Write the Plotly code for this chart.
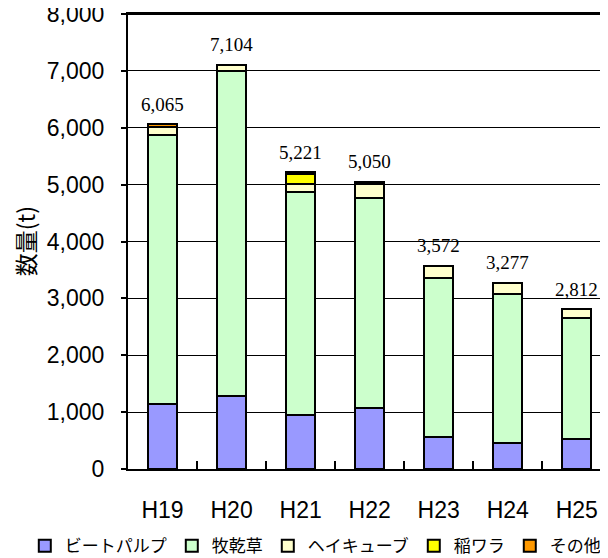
import plotly.graph_objects as go

years = ["H19", "H20", "H21", "H22", "H23", "H24", "H25"]
beet_pulp = [1150, 1290, 950, 1080, 560, 455, 525]
pasture_hay = [4730, 5715, 3920, 3685, 2796, 2620, 2135]
hay_cube = [130, 99, 140, 240, 216, 202, 152]
rice_straw = [0, 0, 180, 45, 0, 0, 0]
other = [55, 0, 31, 0, 0, 0, 0]
totals = [6065, 7104, 5221, 5050, 3572, 3277, 2812]
total_labels = ["6,065", "7,104", "5,221", "5,050", "3,572", "3,277", "2,812"]
y_ticks = [0, 1000, 2000, 3000, 4000, 5000, 6000, 7000, 8000]
y_tick_labels = ["0", "1,000", "2,000", "3,000", "4,000", "5,000", "6,000", "7,000", "8,000"]

series = [
    ("ビートパルプ", beet_pulp, "#9999FF"),
    ("牧乾草", pasture_hay, "#CCFFCC"),
    ("ヘイキューブ", hay_cube, "#FFFFCC"),
    ("稲ワラ", rice_straw, "#FFFF00"),
    ("その他", other, "#FF9900"),
]

SANS = "Liberation Sans, Arial, Noto Sans CJK JP, sans-serif"
CJK = "Noto Sans CJK JP, sans-serif"

fig = go.Figure()
for name, vals, color in series:
    fig.add_trace(go.Bar(
        x=years, y=vals, name=name,
        marker=dict(color=color, line=dict(color="black", width=2)),
    ))

for yr, tot, lab in zip(years, totals, total_labels):
    fig.add_annotation(
        x=yr, y=tot, xref="x", yref="y", text=lab, showarrow=False,
        yanchor="middle", yshift=20,
        font=dict(family="Liberation Serif, Times New Roman, serif", size=19, color="black"),
    )

fig.add_annotation(
    x=-0.215, y=0.5, xref="paper", yref="paper", text="数量(t)", showarrow=False,
    textangle=-90, xanchor="center", yanchor="middle",
    font=dict(family=CJK, size=23, color="black"),
)

# top frame line of the plot area
fig.add_shape(type="line", xref="paper", yref="paper", x0=0, x1=1, y0=1, y1=1,
              line=dict(color="black", width=2), layer="above")

# page body has an 8px margin, so the figure is 8px smaller and shifted
fig.update_layout(
    width=600, height=550,
    margin=dict(l=120, r=0, t=6, b=89, autoexpand=False),
    barmode="stack", bargap=0.58,
    plot_bgcolor="white", paper_bgcolor="white",
    showlegend=True,
    legend=dict(
        orientation="h", x=-0.215, xanchor="left", y=-0.13, yanchor="top",
        font=dict(family=CJK, size=17, color="black"),
        itemwidth=30, tracegroupgap=0, traceorder="normal",
    ),
    font=dict(family=SANS, color="black"),
)

fig.update_xaxes(
    range=[-0.5, 6.452], automargin=False,
    showline=True, linecolor="black", linewidth=2, mirror=True,
    ticks="inside", tickson="boundaries", ticklen=8, tickcolor="black", tickwidth=2,
    tickfont=dict(family=SANS, size=23, color="black"),
    ticklabelstandoff=19,
    showgrid=False,
)
fig.update_yaxes(
    range=[0, 8000], automargin=False,
    tickvals=y_ticks, ticktext=y_tick_labels,
    showline=True, linecolor="black", linewidth=2,
    ticks="outside", ticklen=5, tickcolor="black", tickwidth=1.5,
    tickfont=dict(family=SANS, size=23, color="black"),
    ticklabelstandoff=12, ticklabeloverflow="allow",
    showgrid=True, gridcolor="black", gridwidth=1,
    zeroline=False,
)

fig.write_html("out.html", config={"displayModeBar": False})
